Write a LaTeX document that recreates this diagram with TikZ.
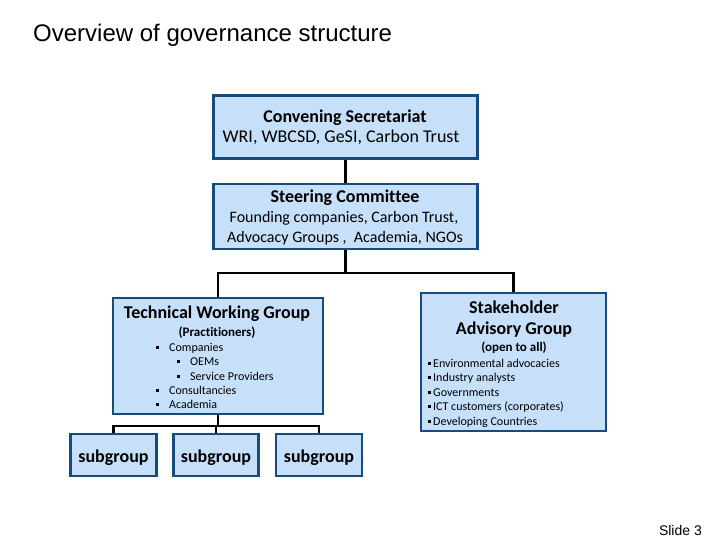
\documentclass[tikz,border=0pt]{standalone}
\usepackage{fontspec}
\setmainfont{Carlito}[Ligatures=NoCommon]
\newfontfamily\arialfont{Liberation Sans}
\definecolor{boxfill}{RGB}{198,224,250}
\definecolor{boxline}{RGB}{23,75,125}
\newcommand{\sqbul}{\raisebox{2.5pt}{\rule{3pt}{3pt}}}

\begin{document}
\begin{tikzpicture}
[x=1pt,y=-1pt,%
  box/.style={draw=boxline,fill=boxfill,line width=2.4pt,inner sep=0pt},%
  link/.style={line width=2.6pt,draw=black},%
  txt/.style={anchor=base,inner sep=0pt},%
  item/.style={anchor=base west,inner sep=0pt,font=\fontsize{12}{14}\selectfont}]
\useasboundingbox (0,0) rectangle (720,540);

% title and slide number
\node[anchor=base west,inner sep=0pt] (title) at (33,42)
  {\arialfont\fontsize{24}{28}\selectfont Overview of governance structure};
\node[anchor=base east,inner sep=0pt] (slide) at (702,535)
  {\arialfont\fontsize{14}{16}\selectfont Slide 3};

% boxes
\node[box,minimum width=264,minimum height=63] (conv) at (345.5,127) {};
\node[box,minimum width=264,minimum height=65] (steer) at (345.5,216.5) {};
\node[box,minimum width=210,minimum height=116] (twg) at (218,356) {};
\node[box,minimum width=185,minimum height=138] (sag) at (513.5,362) {};
\node[box,minimum width=86,minimum height=42] (sub1) at (113.5,455) {};
\node[box,minimum width=85,minimum height=42] (sub2) at (216,455) {};
\node[box,minimum width=86,minimum height=42] (sub3) at (319,455) {};

% convening secretariat
\node[txt,font=\fontsize{18}{20}\selectfont\bfseries] (convhead) at (345,123) {Convening Secretariat};
\node[txt,font=\fontsize{18}{20}\selectfont] (convbody) at (341,143) {WRI, WBCSD, GeSI, Carbon Trust};

% steering committee
\node[txt,font=\fontsize{18}{20}\selectfont\bfseries] (steerhead) at (345,203) {Steering Committee};
\node[txt,font=\fontsize{16}{18}\selectfont] (steerone) at (344,222.5) {Founding companies, Carbon Trust,};
\node[txt,font=\fontsize{16}{18}\selectfont] (steertwo) at (345,242) {Advocacy Groups ,\ \ Academia, NGOs};

% technical working group
\node[txt,font=\fontsize{18}{20}\selectfont\bfseries] (twghead) at (217,318) {Technical Working Group};
\node[txt,font=\fontsize{13}{15}\selectfont\bfseries] (twgsub) at (217,336) {(Practitioners)};
\node[item] (twga) at (156,351) {\sqbul\hspace{10pt}Companies};
\node[item] (twgb) at (177,365.5) {\sqbul\hspace{10pt}OEMs};
\node[item] (twgc) at (177,380) {\sqbul\hspace{10pt}Service Providers};
\node[item] (twgd) at (156,394) {\sqbul\hspace{10pt}Consultancies};
\node[item] (twge) at (156,408) {\sqbul\hspace{10pt}Academia};

% stakeholder advisory group
\node[txt,font=\fontsize{18}{20}\selectfont\bfseries] (saghead) at (514,313) {Stakeholder};
\node[txt,font=\fontsize{18}{20}\selectfont\bfseries] (sagheadb) at (514,334) {Advisory Group};
\node[txt,font=\fontsize{13}{15}\selectfont\bfseries] (sagsub) at (514,351) {(open to all)};
\node[item] (saga) at (428,367) {\sqbul\hspace{2pt}Environmental advocacies};
\node[item] (sagb) at (428,381.5) {\sqbul\hspace{2pt}Industry analysts};
\node[item] (sagc) at (428,396) {\sqbul\hspace{2pt}Governments};
\node[item] (sagd) at (428,410.5) {\sqbul\hspace{2pt}ICT customers (corporates)};
\node[item] (sage) at (428,425) {\sqbul\hspace{2pt}Developing Countries};

% subgroups
\node[txt,font=\fontsize{18}{20}\selectfont\bfseries] (subone) at (113.5,462) {subgroup};
\node[txt,font=\fontsize{18}{20}\selectfont\bfseries] (subtwo) at (216,462) {subgroup};
\node[txt,font=\fontsize{18}{20}\selectfont\bfseries] (subthree) at (319,462) {subgroup};

% connectors
\coordinate (split) at (345.5,273);
\coordinate (subsplit) at (218,426);
\draw[link] (conv.south) -- (steer.north);
\draw[link] (steer.south) -- (split);
\draw[link] (twg.north) |- (split) -| (sag.north);
\draw[link] (twg.south) -- (subsplit);
\draw[link] (sub1.north) |- (subsplit) -| (sub3.north);
\draw[link] (sub2.north) -- (sub2.north |- subsplit);
\end{tikzpicture}
\end{document}
